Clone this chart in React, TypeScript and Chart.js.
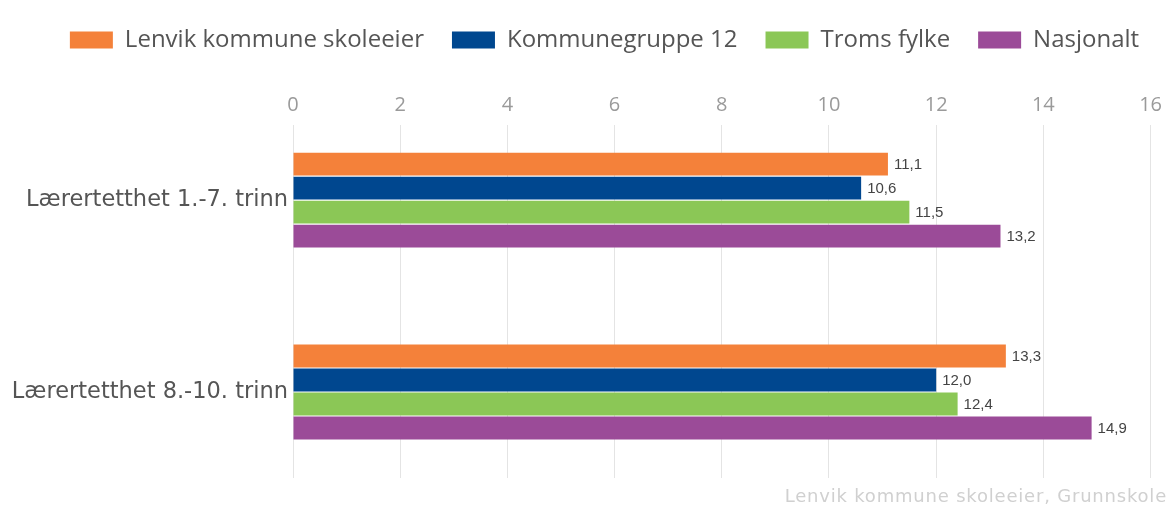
import React, { useEffect, useRef } from "react";
import { Chart, registerables } from "chart.js";

Chart.register(...registerables);

const categories = ["Lærertetthet 1.-7. trinn", "Lærertetthet 8.-10. trinn"];
const seriesNames = ["Lenvik kommune skoleeier", "Kommunegruppe 12", "Troms fylke", "Nasjonalt"];
const lenvik = [11.1, 13.3];
const kommunegruppe = [10.6, 12.0];
const troms = [11.5, 12.4];
const nasjonalt = [13.2, 14.9];
const seriesColors = ["#F4813A", "#00478F", "#8BC756", "#9B4B98"];
const xTicks = [0, 2, 4, 6, 8, 10, 12, 14, 16];
const creditText = "Lenvik kommune skoleeier, Grunnskole";

// axis window for the category (index) axis
const Y_MIN = -0.391;
const Y_MAX = 1.448;
const LEGEND_SHIFT = 26;

const allSeries = [lenvik, kommunegruppe, troms, nasjonalt];

const fmt = (v: number) => v.toFixed(1).replace(".", ",");

const valueLabels = {
  id: "valueLabels",
  afterDatasetsDraw(chart: any) {
    const ctx = chart.ctx;
    ctx.save();
    ctx.font = "15px 'Liberation Sans', Arial, sans-serif";
    ctx.fillStyle = "#444444";
    ctx.textAlign = "left";
    ctx.textBaseline = "middle";
    chart.data.datasets.forEach((ds: any, di: number) => {
      const meta = chart.getDatasetMeta(di);
      meta.data.forEach((el: any, i: number) => {
        const v = ds.data[i].x;
        ctx.fillText(fmt(v), el.x + 6, el.y + 1);
      });
    });
    ctx.restore();
  },
};

const legendShift = {
  id: "legendShift",
  afterLayout(chart: any) {
    const lg = chart.legend;
    if (lg) {
      lg.left += LEGEND_SHIFT;
      lg.right += LEGEND_SHIFT;
    }
  },
};

const credit = {
  id: "credit",
  afterDraw(chart: any) {
    const ctx = chart.ctx;
    ctx.save();
    ctx.font = "18px 'DejaVu Sans', sans-serif";
    (ctx as any).letterSpacing = "0.8px";
    ctx.fillStyle = "#d0d0d0";
    ctx.textAlign = "right";
    ctx.textBaseline = "alphabetic";
    ctx.fillText(creditText, chart.width - 3, chart.height - 5);
    ctx.restore();
  },
};

export default function App() {
  const ref = useRef<HTMLCanvasElement | null>(null);

  useEffect(() => {
    if (!ref.current) return;
    const chart = new Chart(ref.current, {
      type: "bar",
      data: {
        datasets: allSeries.map((vals, si) => ({
          label: seriesNames[si],
          data: vals.map((v, i) => ({ x: v, y: i })),
          backgroundColor: seriesColors[si],
          borderWidth: 0,
          categoryPercentage: 0.5,
          barPercentage: 0.95,
        })),
      },
      plugins: [valueLabels, legendShift, credit],
      options: {
        indexAxis: "y",
        animation: false,
        responsive: false,
        maintainAspectRatio: false,
        layout: { padding: { left: 0, right: 13, top: 0, bottom: 29 } },
        plugins: {
          legend: {
            position: "top",
            align: "center",
            labels: {
              boxWidth: 43,
              boxHeight: 17,
              padding: 28,
              color: "#555555",
              font: { family: "'Open Sans', sans-serif", size: 24 },
            },
          },
          tooltip: { enabled: false },
        },
        scales: {
          x: {
            type: "linear",
            position: "top",
            min: xTicks[0],
            max: xTicks[xTicks.length - 1],
            afterBuildTicks: (scale: any) => {
              scale.ticks = xTicks.map((v) => ({ value: v }));
            },
            afterFit: (scale: any) => {
              scale.height = 63;
            },
            ticks: {
              color: "#9a9a9a",
              padding: 8,
              font: { family: "'Open Sans', sans-serif", size: 20 },
            },
            grid: { color: "#e4e4e4", drawTicks: false, lineWidth: 1 },
            border: { display: false },
          },
          y: {
            type: "linear",
            reverse: true,
            offset: false,
            bounds: "data",
            min: Y_MIN,
            max: Y_MAX,
            afterBuildTicks: (scale: any) => {
              scale.ticks = categories.map((_, i) => ({ value: i }));
              scale.min = Y_MIN;
              scale.max = Y_MAX;
            },
            afterFit: (scale: any) => {
              scale.width = 293;
            },
            ticks: {
              autoSkip: false,
              padding: 5,
              color: "#555555",
              font: { family: "'DejaVu Sans', sans-serif", size: 22.5 },
              callback: (value: any) =>
                Number.isInteger(value) && categories[value] !== undefined ? categories[value] : "",
            },
            grid: { display: false, drawTicks: false, offset: false },
            border: { display: false },
          },
        },
      },
    } as any);
    return () => chart.destroy();
  }, []);

  return (
    <div style={{ position: "fixed", left: 0, top: 0, width: 1170, height: 507, background: "#ffffff" }}>
      <canvas ref={ref} width={1170} height={507} style={{ width: 1170, height: 507 }} />
    </div>
  );
}
